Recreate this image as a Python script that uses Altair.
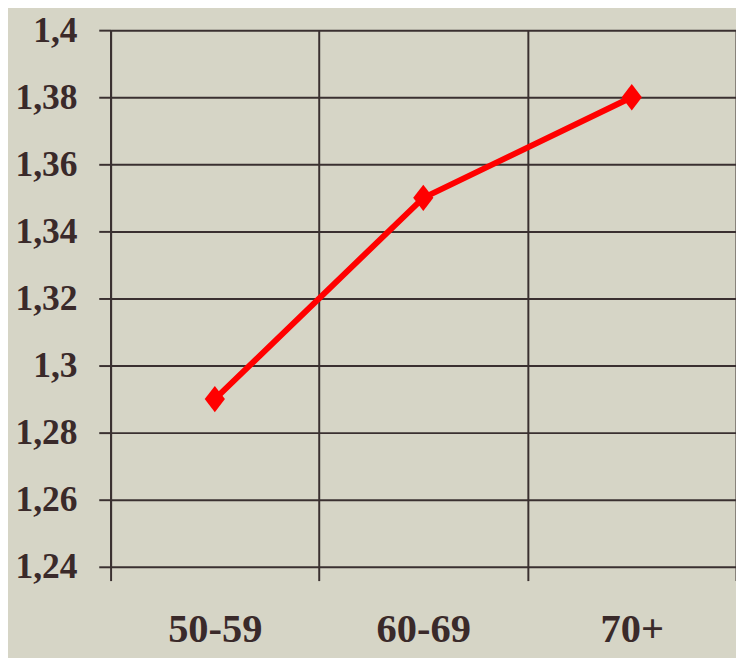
import altair as alt
import pandas as pd

categories = ["50-59", "60-69", "70+"]
values = [1.29, 1.35, 1.38]
y_ticks = [1.24, 1.26, 1.28, 1.30, 1.32, 1.34, 1.36, 1.38, 1.40]

df = pd.DataFrame({"group": categories, "value": values})

FONT = "Liberation Serif"
GRID = "#3a3030"
TEXT = "#3a2a2a"

x_enc = alt.X(
    "group:N",
    sort=categories,
    scale=alt.Scale(paddingInner=0, paddingOuter=0),
    axis=alt.Axis(
        title=None,
        labelAngle=0,
        labelFont=FONT,
        labelFontWeight="bold",
        labelFontSize=41,
        labelColor=TEXT,
        labelPadding=30,
        tickBand="extent",
        tickSize=14,
        tickColor=GRID,
        tickWidth=2,
        grid=True,
        gridColor=GRID,
        gridWidth=2,
        gridOpacity=1,
        domain=False,
    ),
)
y_enc = alt.Y(
    "value:Q",
    scale=alt.Scale(domain=[1.24, 1.40], nice=False, zero=False),
    axis=alt.Axis(
        title=None,
        values=y_ticks,
        labelExpr="replace(toString(round(datum.value*100)/100), '.', ',')",
        labelFont=FONT,
        labelFontWeight="bold",
        labelFontSize=36,
        labelColor=TEXT,
        labelPadding=22,
        tickSize=12,
        tickColor=GRID,
        tickWidth=2,
        grid=True,
        gridColor=GRID,
        gridWidth=2,
        gridOpacity=1,
        domainColor=GRID,
        domainWidth=2,
    ),
)

line = alt.Chart(df).mark_line(color="#ff0000", strokeWidth=6).encode(x=x_enc, y=y_enc)
pts = alt.Chart(df).mark_point(
    shape="M-1,0L0,-1.3L1,0L0,1.3Z",
    filled=True,
    color="#ff0000",
    opacity=1,
    size=420,
).encode(x=alt.X("group:N", sort=categories), y="value:Q")

chart = (
    alt.layer(line, pts)
    .properties(
        width=634,
        height=544,
        background="#d6d5c6",
        padding={"left": 104, "top": 18, "right": 0, "bottom": 88},
        autosize=alt.AutoSizeParams(type="none"),
    )
    .configure_view(stroke=None)
)

chart.save("out.html", embed_options={"renderer": "svg", "actions": False})
